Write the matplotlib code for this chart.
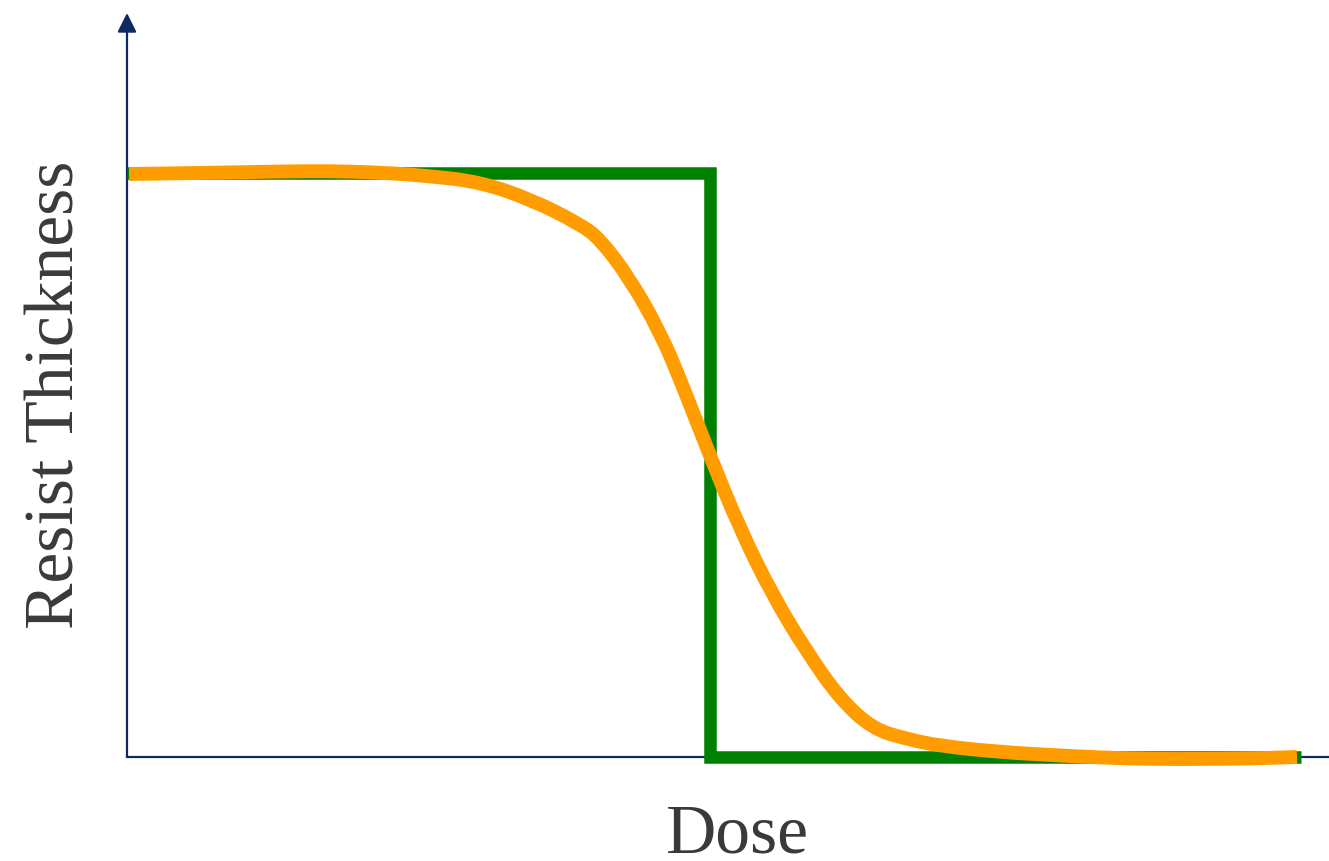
import matplotlib
matplotlib.use("Agg")
import matplotlib.pyplot as plt
from matplotlib.path import Path
from matplotlib.patches import PathPatch

# Ideal (step) response
ideal_dose = [0.0, 48.5, 48.5, 97.7]
ideal_thickness = [78.5, 78.5, 0.0, 0.0]

# Real resist response
real_dose = [0.17, 6.07, 12.73, 16.89, 21.05, 25.21, 29.37, 33.53, 37.69, 39.35,
             41.85, 44.34, 46.01, 48.50, 51.00, 53.74, 56.57, 59.32, 62.06, 64.89,
             67.64, 72.63, 76.79, 80.95, 85.11, 89.27, 93.43, 97.34]
real_thickness = [78.36, 78.49, 78.70, 78.76, 78.56, 78.09, 77.28, 75.0, 71.64, 69.62,
                  64.25, 57.12, 50.81, 40.46, 30.65, 21.64, 14.11, 7.80, 3.76, 2.42,
                  1.48, 0.67, 0.27, -0.07, -0.27, -0.27, -0.20, 0.0]

x_label = "Dose"
y_label = "Resist Thickness"

W, H = 1329, 862
fig = plt.figure(figsize=(W / 100, H / 100), dpi=100)
ax = fig.add_axes([127 / W, (H - 758) / H, (W - 127) / W, (758 - 14) / H])
ax.set_xlim(0, 100)
ax.set_ylim(0, 100)

navy = "#0f2a63"
for s in ["top", "right", "left"]:
    ax.spines[s].set_visible(False)
ax.spines["bottom"].set_color(navy)
ax.spines["bottom"].set_linewidth(1.6)
ax.set_xticks([])
ax.set_yticks([])
ax.patch.set_alpha(0)

ax.annotate("", xy=(0, 1), xytext=(0, 0), xycoords="axes fraction",
            arrowprops=dict(arrowstyle="-|>,head_length=0.58,head_width=0.29",
                            lw=1.6, color=navy, shrinkA=0, shrinkB=0,
                            mutation_scale=20), annotation_clip=False)

ax.plot(ideal_dose, ideal_thickness, color="#008000", lw=9.0,
        solid_joinstyle="miter", solid_capstyle="butt", clip_on=False, zorder=3)

# smooth rendering of the measured points (quadratic Bezier through midpoints)
pts = list(zip(real_dose, real_thickness))
verts = [pts[0]]
codes = [Path.MOVETO]
for i in range(1, len(pts) - 1):
    mid = ((pts[i][0] + pts[i + 1][0]) / 2, (pts[i][1] + pts[i + 1][1]) / 2)
    verts += [pts[i], mid]
    codes += [Path.CURVE3, Path.CURVE3]
verts.append(pts[-1])
codes.append(Path.LINETO)
patch = PathPatch(Path(verts, codes), fill=False, edgecolor="#ff9c00", lw=10,
                  joinstyle="round", capstyle="butt", clip_on=False, zorder=4)
ax.add_patch(patch)

font = ["Liberation Serif", "DejaVu Serif"]
fig.text(737 / W, (H - 853) / H, x_label, family=font, fontsize=50,
         color="#3a3a3d", ha="center", va="baseline")
fig.text(74 / W, (H - 395) / H, y_label, family=font, fontsize=50,
         color="#3a3a3d", ha="center", va="baseline", rotation=90,
         rotation_mode="anchor")

fig.savefig("out.png", dpi=100)
